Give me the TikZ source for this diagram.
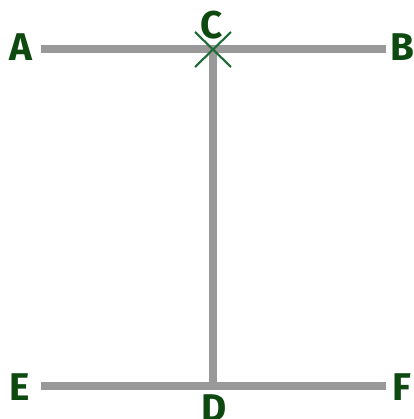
\documentclass[tikz,border=0pt]{standalone}
\usepackage{fontspec}
\setmainfont{Fira Sans}
\usepackage{xcolor}
\usetikzlibrary{shapes,arrows,calc}
\definecolor{bargray}{HTML}{999999}
\definecolor{labgreen}{HTML}{0E4A10}
\definecolor{crossgreen}{HTML}{1E6B35}
\tikzstyle{bar} = [draw=bargray, line width=4pt]
\tikzstyle{lab} = [text=labgreen, font=\fontsize{22}{22}\selectfont\bfseries, inner sep=0pt]
\tikzstyle{cross} = [draw=crossgreen, line width=1.2pt]

\begin{document}
\begin{tikzpicture}[x=0.02cm,y=-0.02cm]
\useasboundingbox (0,0) rectangle (413,419);
\coordinate (pA) at (41,49);
\coordinate (pB) at (386,49);
\coordinate (pC) at (213,49);
\coordinate (pE) at (41,386);
\coordinate (pF) at (386,386);
\coordinate (pD) at (213,386);
%
\draw[bar] (pA) -- (pB);
\draw[bar] (pE) -- (pF);
\draw[bar] (pC) -- (pD);
\draw[cross] ($(pC)+(-18,-17)$) -- ($(pC)+(18,18)$);
\draw[cross] ($(pC)+(-18,18)$) -- ($(pC)+(18,-17)$);
%
\node[lab] (A) at (21,47) {A};
\node[lab] (B) at (402,47) {B};
\node[lab] (C) at (212,25) {C};
\node[lab] (E) at (20,387) {E};
\node[lab] (F) at (402,387) {F};
\node[lab] (D) at (214,408) {D};
\end{tikzpicture}
\end{document}
